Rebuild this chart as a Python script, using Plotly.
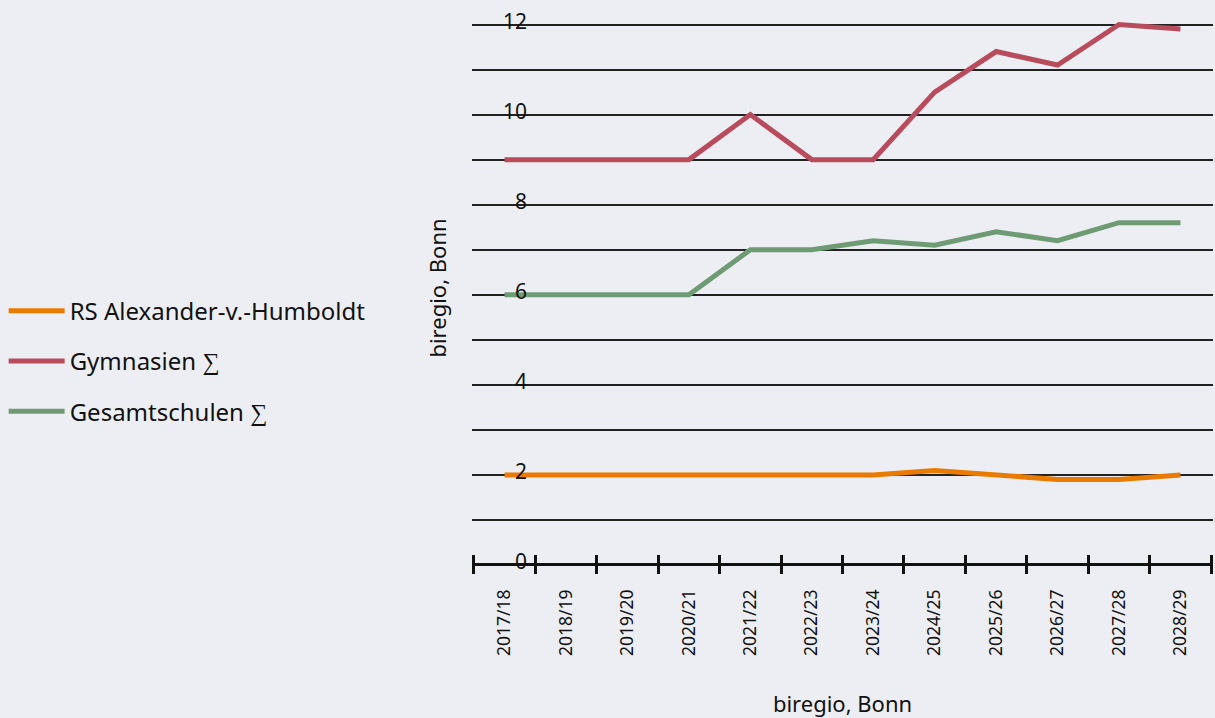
import plotly.graph_objects as go

categories = ["2017/18", "2018/19", "2019/20", "2020/21", "2021/22", "2022/23",
              "2023/24", "2024/25", "2025/26", "2026/27", "2027/28", "2028/29"]
rs_humboldt = [2, 2, 2, 2, 2, 2, 2, 2.1, 2.0, 1.9, 1.9, 2.0]
gymnasien = [9, 9, 9, 9, 10, 9, 9, 10.5, 11.4, 11.1, 12, 11.9]
gesamtschulen = [6, 6, 6, 6, 7, 7, 7.2, 7.1, 7.4, 7.2, 7.6, 7.6]

series = [
    ("RS Alexander-v.-Humboldt", rs_humboldt, "#E87B00"),
    ("Gymnasien ∑", gymnasien, "#B84B5C"),
    ("Gesamtschulen ∑", gesamtschulen, "#6E9B74"),
]

FONT = "Noto Sans"
INK = "#111111"
fig = go.Figure()
for i, (name, vals, col) in enumerate(series):
    fig.add_trace(go.Scatter(
        x=categories, y=vals, name=name, mode="lines",
        line=dict(color=col, width=5), legendgroup=f"g{i}",
    ))

bg = "#EDEEF3"
fig.update_layout(
    width=1215, height=718,
    paper_bgcolor=bg, plot_bgcolor=bg,
    margin=dict(l=472, r=2, t=2, b=144, autoexpand=False),
    font=dict(family=FONT, color=INK),
    showlegend=True,
    legend=dict(
        xref="container", yref="container", x=0.003, y=0.497,
        xanchor="left", yanchor="middle",
        font=dict(size=24, family=FONT, color=INK),
        tracegroupgap=16, bgcolor="rgba(0,0,0,0)",
        itemwidth=56,
    ),
    xaxis=dict(
        type="category", categoryorder="array", categoryarray=categories,
        range=[-0.53, 11.53], showgrid=False, zeroline=False, automargin=False,
        tickmode="linear", tick0=0, dtick=1,
        showline=False,
        ticks="inside", ticklen=19, tickwidth=3, tickcolor=INK,
        tickson="boundaries", tickangle=-90, ticklabelstandoff=11,
        tickfont=dict(size=17.5, family=FONT, color=INK),
        title=dict(text="biregio, Bonn", font=dict(size=22, family=FONT, color=INK), standoff=44),
    ),
    yaxis=dict(
        range=[-0.2, 12.5], dtick=2, tick0=0, showgrid=True, automargin=False,
        gridcolor="#222222", gridwidth=1.5,
        zeroline=True, zerolinecolor=INK, zerolinewidth=3,
        minor=dict(dtick=1, tick0=0, showgrid=True, gridcolor="#222222", gridwidth=1.5),
        ticks="", ticklabelposition="outside", ticklabelstandoff=-56, ticklabelshift=-3,
        tickfont=dict(size=21, family=FONT, color=INK),
        title=dict(text="biregio, Bonn", font=dict(size=22, family=FONT, color=INK), standoff=50),
    ),
)

fig.write_html("out.html", config={"displayModeBar": False},
               post_script="document.body.style.margin='0';document.body.style.background='%s';" % bg)
